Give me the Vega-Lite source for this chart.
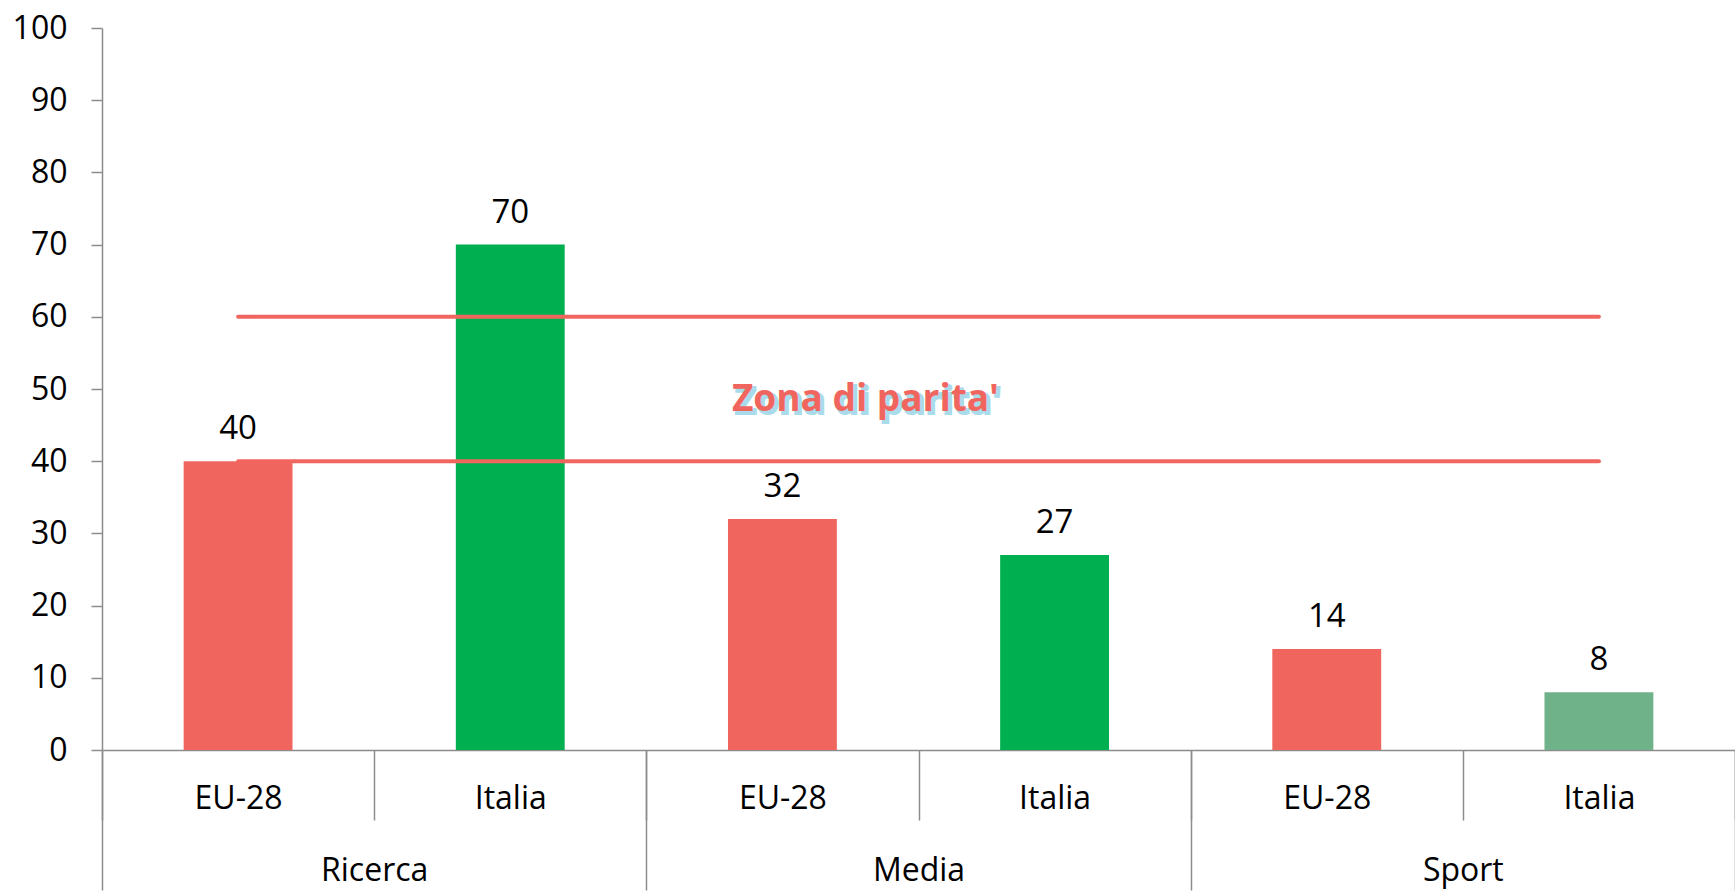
{
  "$schema": "https://vega.github.io/schema/vega-lite/v6.json",
  "width": 1633,
  "height": 722,
  "autosize": {"type": "none"},
  "padding": {"left": 102, "top": 28, "right": 0, "bottom": 142},
  "background": "white",
  "config": {"view": {"stroke": null}, "font": "Open Sans"},
  "data": {
    "values": [
      {"gruppo": "Ricerca", "paese": "EU-28", "valore": 40},
      {"gruppo": "Ricerca", "paese": "Italia", "valore": 70},
      {"gruppo": "Media", "paese": "EU-28", "valore": 32},
      {"gruppo": "Media", "paese": "Italia", "valore": 27},
      {"gruppo": "Sport", "paese": "EU-28", "valore": 14},
      {"gruppo": "Sport", "paese": "Italia", "valore": 8}
    ]
  },
  "transform": [{"calculate": "datum.gruppo + '|' + datum.paese", "as": "cat"}],
  "layer": [
    {
      "encoding": {
        "x": {
          "field": "cat",
          "type": "nominal",
          "scale": {
            "domain": ["Ricerca|EU-28", "Ricerca|Italia", "Media|EU-28", "Media|Italia", "Sport|EU-28", "Sport|Italia"],
            "paddingInner": 0,
            "paddingOuter": 0
          },
          "axis": {
            "orient": "bottom",
            "title": null,
            "labelExpr": "split(datum.label, '|')[1]",
            "labelAngle": 0,
            "tickBand": "extent",
            "tickSize": 70,
            "tickColor": "#8c8c8c",
            "tickWidth": 1.5,
            "domainColor": "#8c8c8c",
            "domainWidth": 1.5,
            "labelPadding": -12,
            "labelBaseline": "alphabetic",
            "labelFontSize": 32,
            "labelColor": "#000000"
          }
        },
        "y": {
          "field": "valore",
          "type": "quantitative",
          "scale": {"domain": [0, 100], "nice": false},
          "axis": {
            "title": null,
            "values": [0, 10, 20, 30, 40, 50, 60, 70, 80, 90, 100],
            "grid": false,
            "tickSize": 11,
            "tickColor": "#8c8c8c",
            "tickWidth": 1.5,
            "domainColor": "#8c8c8c",
            "domainWidth": 1.5,
            "labelPadding": 24,
            "labelFontSize": 32,
            "labelColor": "#000000"
          }
        }
      },
      "layer": [
        {
          "mark": {"type": "bar", "width": {"band": 0.4}},
          "encoding": {
            "color": {
              "field": "cat",
              "type": "nominal",
              "legend": null,
              "scale": {
                "domain": ["Ricerca|EU-28", "Ricerca|Italia", "Media|EU-28", "Media|Italia", "Sport|EU-28", "Sport|Italia"],
                "range": ["#F0665F", "#00B050", "#F0665F", "#00B050", "#F0665F", "#6FB28A"]
              }
            }
          }
        },
        {
          "mark": {"type": "text", "baseline": "alphabetic", "dy": -22, "fontSize": 33, "color": "#000000"},
          "encoding": {"text": {"field": "valore", "type": "quantitative"}}
        },
        {
          "data": {"values": [{"lim": 40}, {"lim": 60}]},
          "mark": {"type": "rule", "color": "#F0665F", "strokeWidth": 4, "strokeCap": "round"},
          "encoding": {
            "x": {"datum": "Ricerca|EU-28", "bandPosition": 0.5},
            "x2": {"datum": "Sport|Italia", "bandPosition": 0.5},
            "y": {"field": "lim", "type": "quantitative"}
          }
        },
        {
          "data": {"values": [{"testo": "Zona di parita'", "pos": "Media|EU-28", "liv": 47}]},
          "mark": {"type": "text", "baseline": "alphabetic", "dx": 86, "dy": 3, "fontSize": 37, "fontWeight": "bold", "color": "#A9DBEA", "stroke": "#A9DBEA", "strokeWidth": 2},
          "encoding": {
            "x": {"field": "pos", "type": "nominal"},
            "y": {"field": "liv", "type": "quantitative"},
            "text": {"field": "testo"}
          }
        },
        {
          "data": {"values": [{"testo": "Zona di parita'", "pos": "Media|EU-28", "liv": 47}]},
          "mark": {"type": "text", "baseline": "alphabetic", "dx": 83, "fontSize": 37, "fontWeight": "bold", "color": "#F0665F"},
          "encoding": {
            "x": {"field": "pos", "type": "nominal"},
            "y": {"field": "liv", "type": "quantitative"},
            "text": {"field": "testo"}
          }
        }
      ]
    },
    {
      "mark": {"type": "tick", "opacity": 0},
      "encoding": {
        "x": {
          "field": "gruppo",
          "type": "nominal",
          "scale": {"domain": ["Ricerca", "Media", "Sport"], "paddingInner": 0, "paddingOuter": 0},
          "axis": {
            "orient": "bottom",
            "title": null,
            "labelAngle": 0,
            "domain": false,
            "tickBand": "extent",
            "tickSize": 140,
            "tickColor": "#8c8c8c",
            "tickWidth": 1.5,
            "labelPadding": -10,
            "labelBaseline": "alphabetic",
            "labelFontSize": 32,
            "labelColor": "#000000"
          }
        }
      }
    }
  ],
  "resolve": {"scale": {"x": "independent"}, "axis": {"x": "independent"}}
}
